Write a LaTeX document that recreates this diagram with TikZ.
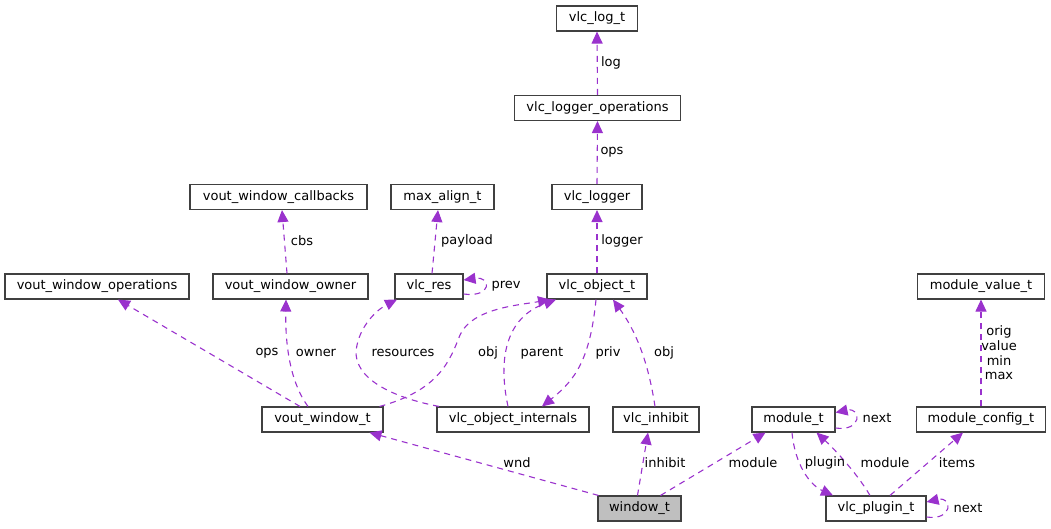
\documentclass[tikz,border=0pt]{standalone}
\usepackage{fontspec}
\setmainfont{DejaVu Sans}
\usetikzlibrary{arrows.meta}
\definecolor{edgec}{RGB}{154,50,205}
\definecolor{boxc}{RGB}{64,64,64}
\definecolor{grayfill}{RGB}{191,191,191}
\begin{document}
\begin{tikzpicture}[x=1pt,y=-1pt,
  box/.style={draw=boxc,line width=1.1pt,fill=white,minimum height=25pt,inner sep=0pt,
    font=\fontsize{13}{15}\selectfont,text=black},
  edge/.style={draw=edgec,line width=1.1pt,dash pattern=on 6pt off 5pt,
    -{Triangle[length=12pt,width=11pt,fill=edgec]}},
  lab/.style={font=\fontsize{13}{14.7}\selectfont,inner sep=0pt,text=black,align=center}]
\useasboundingbox (0,0) rectangle (1051,528);
% nodes
\node[box,minimum width=81pt] (loglt) at (597,18.5) {vlc\_log\_t};
\node[box,minimum width=166pt] (logops) at (597.5,108) {vlc\_logger\_operations};
\node[box,minimum width=90pt] (logger) at (597,197) {vlc\_logger};
\node[box,minimum width=177pt] (cbs) at (278.5,197) {vout\_window\_callbacks};
\node[box,minimum width=103pt] (maxal) at (442.5,197) {max\_align\_t};
\node[box,minimum width=184pt] (vwops) at (97,286.5) {vout\_window\_operations};
\node[box,minimum width=155pt] (vwown) at (290.5,286.5) {vout\_window\_owner};
\node[box,minimum width=68pt] (res) at (429,286.5) {vlc\_res};
\node[box,minimum width=100pt] (obj) at (597,286.5) {vlc\_object\_t};
\node[box,minimum width=127pt] (modval) at (981,286.5) {module\_value\_t};
\node[box,minimum width=121pt] (vwt) at (322.5,419.5) {vout\_window\_t};
\node[box,minimum width=152pt] (objint) at (513,419.5) {vlc\_object\_internals};
\node[box,minimum width=86pt] (inhibit) at (656,419.5) {vlc\_inhibit};
\node[box,minimum width=83pt] (modt) at (793.5,419.5) {module\_t};
\node[box,minimum width=129pt] (modcfg) at (981,419.5) {module\_config\_t};
\node[box,minimum width=83pt,fill=grayfill] (window) at (639.5,508.5) {window\_t};
\node[box,minimum width=100pt] (plugin) at (876,508.5) {vlc\_plugin\_t};
% edges
\draw[edge] (logops.north) -- (loglt.south);
\draw[edge] (logger.north) -- (logops.south);
\draw[edge] (obj.north) -- (logger.south);
\draw[edge] ([xshift=-3.5pt]vwown.north) -- ([xshift=3.5pt]cbs.south);
\draw[edge] ([xshift=3pt]res.north) -- ([xshift=-4.5pt]maxal.south);
\draw[edge] ([yshift=-7.5pt]res.east) .. controls (492,298) and (492,276) .. ([yshift=6.5pt]res.east);
\draw[edge] ([xshift=-22.5pt]vwt.north) -- ([xshift=21pt]vwops.south);
\draw[edge] ([xshift=-14.5pt]vwt.north) .. controls (292,385) and (285,350) .. ([xshift=-4.5pt]vwown.south);
\draw[edge] ([xshift=-74pt]objint.north) .. controls (380,395) and (350,372) .. (357,345) .. controls (362,322) and (380,308) .. ([xshift=-32pt]res.south);
\draw[edge] ([xshift=57pt]vwt.north) .. controls (440,390) and (450,360) .. (460,335) .. controls (472,308) and (520,305) .. ([xshift=-47pt]obj.south);
\draw[edge] ([xshift=-5pt]objint.north) .. controls (498,360) and (505,318) .. ([xshift=-41pt]obj.south);
\draw[edge] ([xshift=-1pt]obj.south) .. controls (590,360) and (575,380) .. ([xshift=29pt]objint.north);
\draw[edge] ([xshift=-1pt]inhibit.north) .. controls (648,360) and (635,330) .. ([xshift=16pt]obj.south);
\draw[edge] ([xshift=-41pt]window.north) -- ([xshift=47pt]vwt.south);
\draw[edge] ([xshift=-2pt]window.north) -- ([xshift=-8pt]inhibit.south);
\draw[edge] ([xshift=21pt]window.north) -- ([xshift=-28pt]modt.south);
\draw[edge] ([yshift=-8.5pt]modt.east) .. controls (862,432) and (862,407) .. ([yshift=7pt]modt.east);
\draw[edge] ([xshift=-1.5pt]modt.south) .. controls (795,465) and (810,485) .. ([xshift=-43pt]plugin.north);
\draw[edge] ([xshift=-6pt]plugin.north) .. controls (855,470) and (830,445) .. ([xshift=23pt]modt.south);
\draw[edge] ([xshift=14pt]plugin.north) -- ([xshift=-18pt]modcfg.south);
\draw[edge] ([yshift=-8.5pt]plugin.east) .. controls (953,521) and (953,496) .. ([yshift=6.5pt]plugin.east);
\draw[edge] (modcfg.north) -- (modval.south);
% labels
\node[lab] (l1) at (611,63) {log};
\node[lab] (l2) at (612,152) {ops};
\node[lab] (l3) at (622,241) {logger};
\node[lab] (l4) at (302,241) {cbs};
\node[lab] (l5) at (467,241) {payload};
\node[lab] (l6) at (506,286.5) {prev};
\node[lab] (l7) at (267,353) {ops};
\node[lab] (l8) at (316,353) {owner};
\node[lab] (l9) at (403,353) {resources};
\node[lab] (l10) at (488,353) {obj};
\node[lab] (l11) at (542,353) {parent};
\node[lab] (l12) at (608,353) {priv};
\node[lab] (l13) at (664,353) {obj};
\node[lab] (l14) at (517,463) {wnd};
\node[lab] (l15) at (665,463) {inhibit};
\node[lab] (l16) at (753,463) {module};
\node[lab] (l17) at (825,463) {plugin};
\node[lab] (l18) at (885,463) {module};
\node[lab] (l19) at (957,463) {items};
\node[lab] (l20) at (877,418) {next};
\node[lab] (l21) at (968,508.5) {next};
\node[lab] (l22) at (999,353) {orig\\value\\min\\max};
\end{tikzpicture}
\end{document}
